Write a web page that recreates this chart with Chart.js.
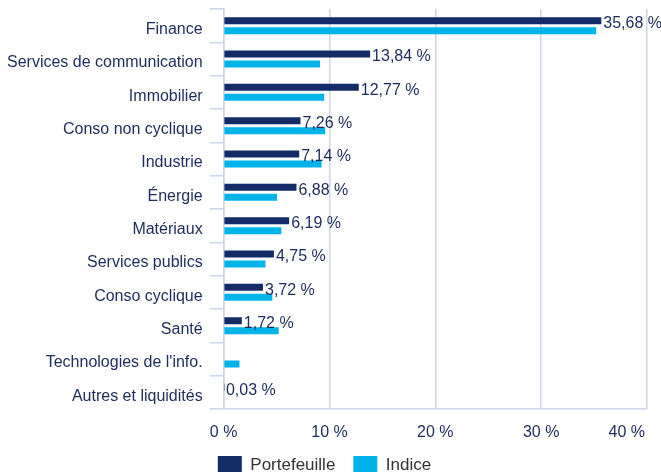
<!DOCTYPE html>
<html>
<head>
<meta charset="utf-8">
<script src="https://cdn.jsdelivr.net/npm/chart.js@4.4.1/dist/chart.umd.min.js"></script>
<style>
  html, body { margin: 0; padding: 0; background: #fff; overflow: hidden; }
  #wrap { width: 661px; height: 484px; }
</style>
</head>
<body>
<div id="wrap"><canvas id="Sector_Chart"></canvas></div>
<script>
const sectors = ['Finance', 'Services de communication', 'Immobilier', 'Conso non cyclique',
                 'Industrie', 'Énergie', 'Matériaux', 'Services publics', 'Conso cyclique',
                 'Santé', "Technologies de l'info.", 'Autres et liquidités']
const portefeuille = [35.68, 13.84, 12.77, 7.26, 7.14, 6.88, 6.19, 4.75, 3.72, 1.72, null, 0.03]
const indice = [35.2, 9.1, 9.5, 9.6, 9.25, 5.05, 5.45, 3.95, 4.6, 5.2, 1.5, 0]
const xTicks = [0, 10, 20, 30, 40]

const navy = '#132b66',
      cyan = '#00b4ea',
      textColor = '#1c2b5a',
      gridColor = '#cbd6e8'
const font = { family: "'Liberation Sans', Arial, sans-serif", size: 16 }

function pct(v) {
    return v.toFixed(2).replace('.', ',') + ' %'
}

/*========================== Labels plugin =============================*/
const valueLabels = {
    id: 'valueLabels',
    afterDraw(chart) {
        const ctx = chart.ctx
        const meta = chart.getDatasetMeta(0)
        ctx.save()
        ctx.font = font.size + 'px ' + font.family
        ctx.fillStyle = textColor
        ctx.textAlign = 'left'
        ctx.textBaseline = 'middle'
        meta.data.forEach((bar, i) => {
            const v = portefeuille[i]
            if (v === null) return
            ctx.fillText(pct(v), bar.x + 2, bar.y + 3)
        })
        // last x tick label sits inside the chart edge
        const x = chart.scales.x
        const last = xTicks[xTicks.length - 1]
        ctx.textAlign = 'right'
        ctx.textBaseline = 'top'
        ctx.fillText(last + ' %', x.getPixelForValue(last) - 2, x.top + x.options.ticks.padding + 2)
        ctx.restore()
    }
}

/*========================== Chart =============================*/
const data = {
    labels: sectors,
    datasets: [
        {
            label: 'Portefeuille',
            data: portefeuille,
            backgroundColor: navy,
            categoryPercentage: 0.6,
            barPercentage: 0.7
        },
        {
            label: 'Indice',
            data: indice,
            backgroundColor: cyan,
            categoryPercentage: 0.6,
            barPercentage: 0.7
        }
    ]
}

const config = {
    type: 'bar',
    data: data,
    options: {
        indexAxis: 'y',
        responsive: true,
        maintainAspectRatio: false,
        animation: false,
        layout: { padding: { top: 9, right: 12, left: 0, bottom: 0 } },
        scales: {
            x: {
                min: 0,
                max: 40,
                afterBuildTicks(scale) {
                    scale.ticks = xTicks.map(v => ({ value: v }))
                },
                afterFit(scale) {
                    scale.height = 29
                    scale._computeLabelArea = () => undefined
                },
                ticks: {
                    color: textColor,
                    font: font,
                    padding: 14,
                    maxRotation: 0,
                    callback: v => v === xTicks[xTicks.length - 1] ? '' : v + ' %'
                },
                grid: { color: gridColor, drawTicks: false, lineWidth: 1.5 },
                border: { color: gridColor, width: 1.5 }
            },
            y: {
                afterFit(scale) {
                    scale.paddingTop = 0
                    scale.paddingBottom = 0
                },
                ticks: { color: textColor, font: font, padding: 7, labelOffset: 4, autoSkip: false },
                grid: { color: gridColor, drawOnChartArea: false, tickLength: 14, lineWidth: 1.5 },
                border: { color: gridColor, width: 1.5 }
            }
        },
        plugins: {
            legend: {
                position: 'bottom',
                labels: {
                    color: '#333333',
                    font: { family: font.family, size: 17 },
                    boxWidth: 24,
                    boxHeight: 18,
                    padding: 18
                }
            },
            tooltip: { enabled: false }
        }
    },
    plugins: [valueLabels]
}

var sectorChart = new Chart(document.getElementById('Sector_Chart'), config)
</script>
</body>
</html>
